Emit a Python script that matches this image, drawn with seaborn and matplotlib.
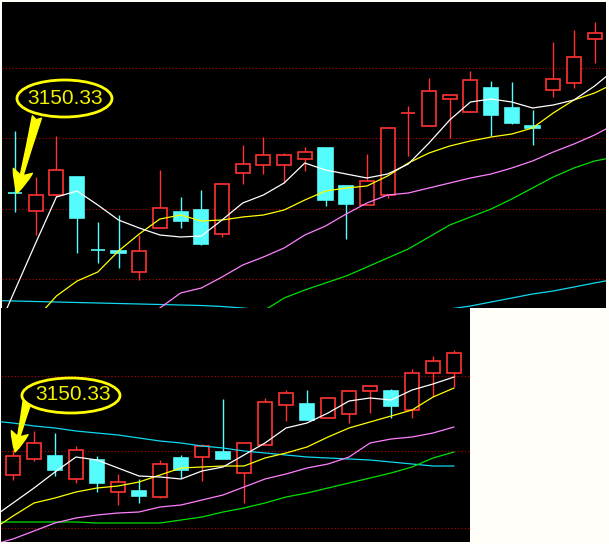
import numpy as np
import pandas as pd
import matplotlib
matplotlib.use("Agg")
import matplotlib.pyplot as plt
import seaborn as sns
from matplotlib.patches import Ellipse
from matplotlib import font_manager

# ---- upper panel (daily candles, index levels in chart units) ----
top_open = [115.5, 97, 113, 131, 58.5, 57, 36, 80, 96, 98, 74, 135, 143, 143, 149,
            160, 122, 103, 113, 195, 182, 209, 196, 220, 200, 182, 218, 225, 269]
top_close = [115, 113, 138, 90, 58, 55, 57, 100, 87, 64, 124, 144, 153, 153, 156,
             108, 104, 127, 180, 195.5, 217, 213, 228, 193, 185, 180, 229, 251, 275]
top_high = [177, 131, 172, 131, 86, 93, 73, 138, 111, 118, 125, 163, 171, 155, 161,
            160, 122, 154, 180, 202, 230, 213, 237, 227, 226, 198, 266, 278, 286]
top_low = [96, 73, 111, 55, 45, 40, 28, 80, 80, 63, 71, 124, 134, 125, 137,
           102, 69, 103, 110, 152, 182, 170, 196, 172, 184, 163, 211, 220, 245]

# moving averages, one value per bar from index -1 to 29
top_ma_white = [-29, 18, 65, 111, 117, 103, 88, 80, 73, 71, 72, 88, 105, 113, 125, 145,
                138, 134, 130, 134, 144, 165, 188, 206, 209, 206, 200, 203, 208, 222, 239]
top_ma_yellow = [None, None, -11, 12, 27, 36, 57, 74, 89, 93, 87, 88, 91, 93, 98, 108,
                 117, 120, 122, 132, 145, 155, 162, 167, 171, 174, 180, 195, 208, 215, 225]
top_ma_pink = [None, None, None, None, None, None, None, -14, 0, 15, 20, 31, 43, 51, 60, 73,
               82, 94, 105, 113, 115, 120, 125, 130, 134, 140, 147, 156, 164, 173, 184]
top_ma_green = [None, None, None, None, None, None, None, None, None, None, None, None, -15, -3, 10, 18,
                25, 32, 41, 50, 59, 71, 83, 91, 99, 109, 120, 131, 140, 147, 151]
top_ma_cyan = [7.5, 7, 6.5, 6, 5.5, 5, 4.5, 4, 3.5, 3, 2.5, 1.5, 0, -2, -3, -3,
               -3, -3, -3, -3, -3, -3, -1, 2, 6, 10, 14, 17, 21, 25, 29]
top_grid = [29, 99, 170, 240]

# ---- lower panel ----
bot_open = [68, 84, 87, 64, 83, 51, 52, 46, 85, 86, 91, 70, 98, 138, 139, 125, 129, 152, 152, 133, 170, 170]
bot_close = [87, 100, 73, 93, 60, 61, 47, 79, 73, 97, 84, 100, 141, 150, 123, 145, 152, 157, 137, 170, 182, 190]
bot_high = [93, 112, 110, 97, 87, 69, 64, 83, 88, 99, 144, 100, 145, 153, 153, 146, 153, 158, 154, 174, 187, 193]
bot_low = [63, 82, 67, 60, 51, 38, 40, 45, 65, 62, 84, 40, 98, 122, 123, 125, 120, 130, 125, 125, 146, 156]

# index -1 to 21
bot_ma_white = [25, 40, 55, 71, 86, 83, 75, 67, 66, 64, 72, 76, 88, 100, 115, 120, 130, 142, 145, 143, 153, 159, 166]
bot_ma_yellow = [13, 27, 40, 45, 51, 55, 57, 61, 68, 75, 76, 77, 77, 85, 90, 96, 106, 115, 121, 127, 133, 146, 155]
bot_ma_pink = [-2, 4, 12, 20, 25, 28, 30, 31, 36, 38, 43, 48, 56, 64, 69, 75, 79, 86, 100, 104, 106, 110, 116]
bot_ma_green = [21, 21, 21, 21, 21, 20, 20, 20, 20, 23, 26, 31, 35, 40, 46, 50, 55, 60, 65, 70, 76, 85, 91]
bot_ma_cyan = [122, 120, 117, 115, 112, 110, 108, 105, 102, 100, 97, 95, 92, 90, 88, 86, 85, 84, 83, 81, 79, 77, 77]
bot_grid = [15, 92, 167]

label_text = "3150.33"

up_color = "#ff3333"
down_color = "#55fcfc"
ma_colors = {"white": "#ffffff", "yellow": "#ffff00", "pink": "#ff80ff",
             "green": "#00e000", "cyan": "#10d8f0"}

sns.set_theme(style="white", rc={"axes.facecolor": "black"})

available = {f.name for f in font_manager.fontManager.ttflist}
if "Liberation Sans Narrow" in available:
    label_family, label_size = "Liberation Sans Narrow", 17.5
else:
    label_family, label_size = "Liberation Sans", 15


def draw_panel(ax, o, h, l, c, mas, grid):
    o, h, l, c = map(np.asarray, (o, h, l, c))
    x = np.arange(len(o))
    up = c >= o
    for g in grid:
        ax.axhline(g, color="#c00000", lw=0.8, ls=(0, (1, 2)), zorder=1)
    ax.vlines(x, l, h, colors=np.where(up, up_color, down_color), lw=1.0, zorder=2)
    ax.bar(x, c - o, bottom=o, width=0.68,
           color=np.where(up, "black", down_color),
           edgecolor=np.where(up, up_color, down_color), linewidth=1.2, zorder=3)

    rows = []
    for name, vals in mas.items():
        for i, v in enumerate(vals):
            if v is not None:
                rows.append({"bar": i - 1, "level": v, "ma": name})
    df = pd.DataFrame(rows)
    sns.lineplot(data=df, x="bar", y="level", hue="ma", palette=ma_colors,
                 estimator=None, legend=False, lw=0.9, ax=ax, zorder=4)

    ax.set(xlabel=None, ylabel=None, xticks=[], yticks=[])
    for s in ax.spines.values():
        s.set_visible(False)


def draw_label(ax, center, size, text_xy, tail, tip, scale):
    ax.annotate("", xy=tip, xytext=tail,
                arrowprops=dict(arrowstyle="fancy,head_length=1.1,head_width=0.95,tail_width=0.45",
                                color="#ffff00", mutation_scale=scale, shrinkA=0, shrinkB=0),
                zorder=5)
    ax.add_patch(Ellipse(center, size[0], size[1], facecolor="black",
                         edgecolor="#ffff00", lw=2.0, zorder=6))
    ax.text(text_xy[0], text_xy[1], label_text, color="#f2f200", ha="center", va="center",
            fontsize=label_size, family=label_family, zorder=7)


fig = plt.figure(figsize=(6.09, 5.44), dpi=100, facecolor="#fffef8")

ax_top = fig.add_axes([2 / 609, 236 / 544, 604 / 609, 306 / 544])
draw_panel(ax_top, top_open, top_high, top_low, top_close,
           {"cyan": top_ma_cyan, "green": top_ma_green, "pink": top_ma_pink,
            "yellow": top_ma_yellow, "white": top_ma_white}, top_grid)
ax_top.set_xlim(-0.628, 28.55)
ax_top.set_ylim(0, 306)
draw_label(ax_top, (2.39, 209.5), (4.59, 37), (2.44, 210), (1.06, 191), (0.1, 115), 15)

ax_bot = fig.add_axes([1 / 609, 2 / 544, 469 / 609, 234 / 544])
draw_panel(ax_bot, bot_open, bot_high, bot_low, bot_close,
           {"cyan": bot_ma_cyan, "green": bot_ma_green, "pink": bot_ma_pink,
            "yellow": bot_ma_yellow, "white": bot_ma_white}, bot_grid)
ax_bot.set_xlim(-0.571, 21.76)
ax_bot.set_ylim(1, 235)
draw_label(ax_bot, (2.76, 147.5), (4.67, 35), (2.88, 148), (0.67, 141), (0.1, 91), 13)

plt.savefig("out.png", dpi=100, facecolor=fig.get_facecolor())
